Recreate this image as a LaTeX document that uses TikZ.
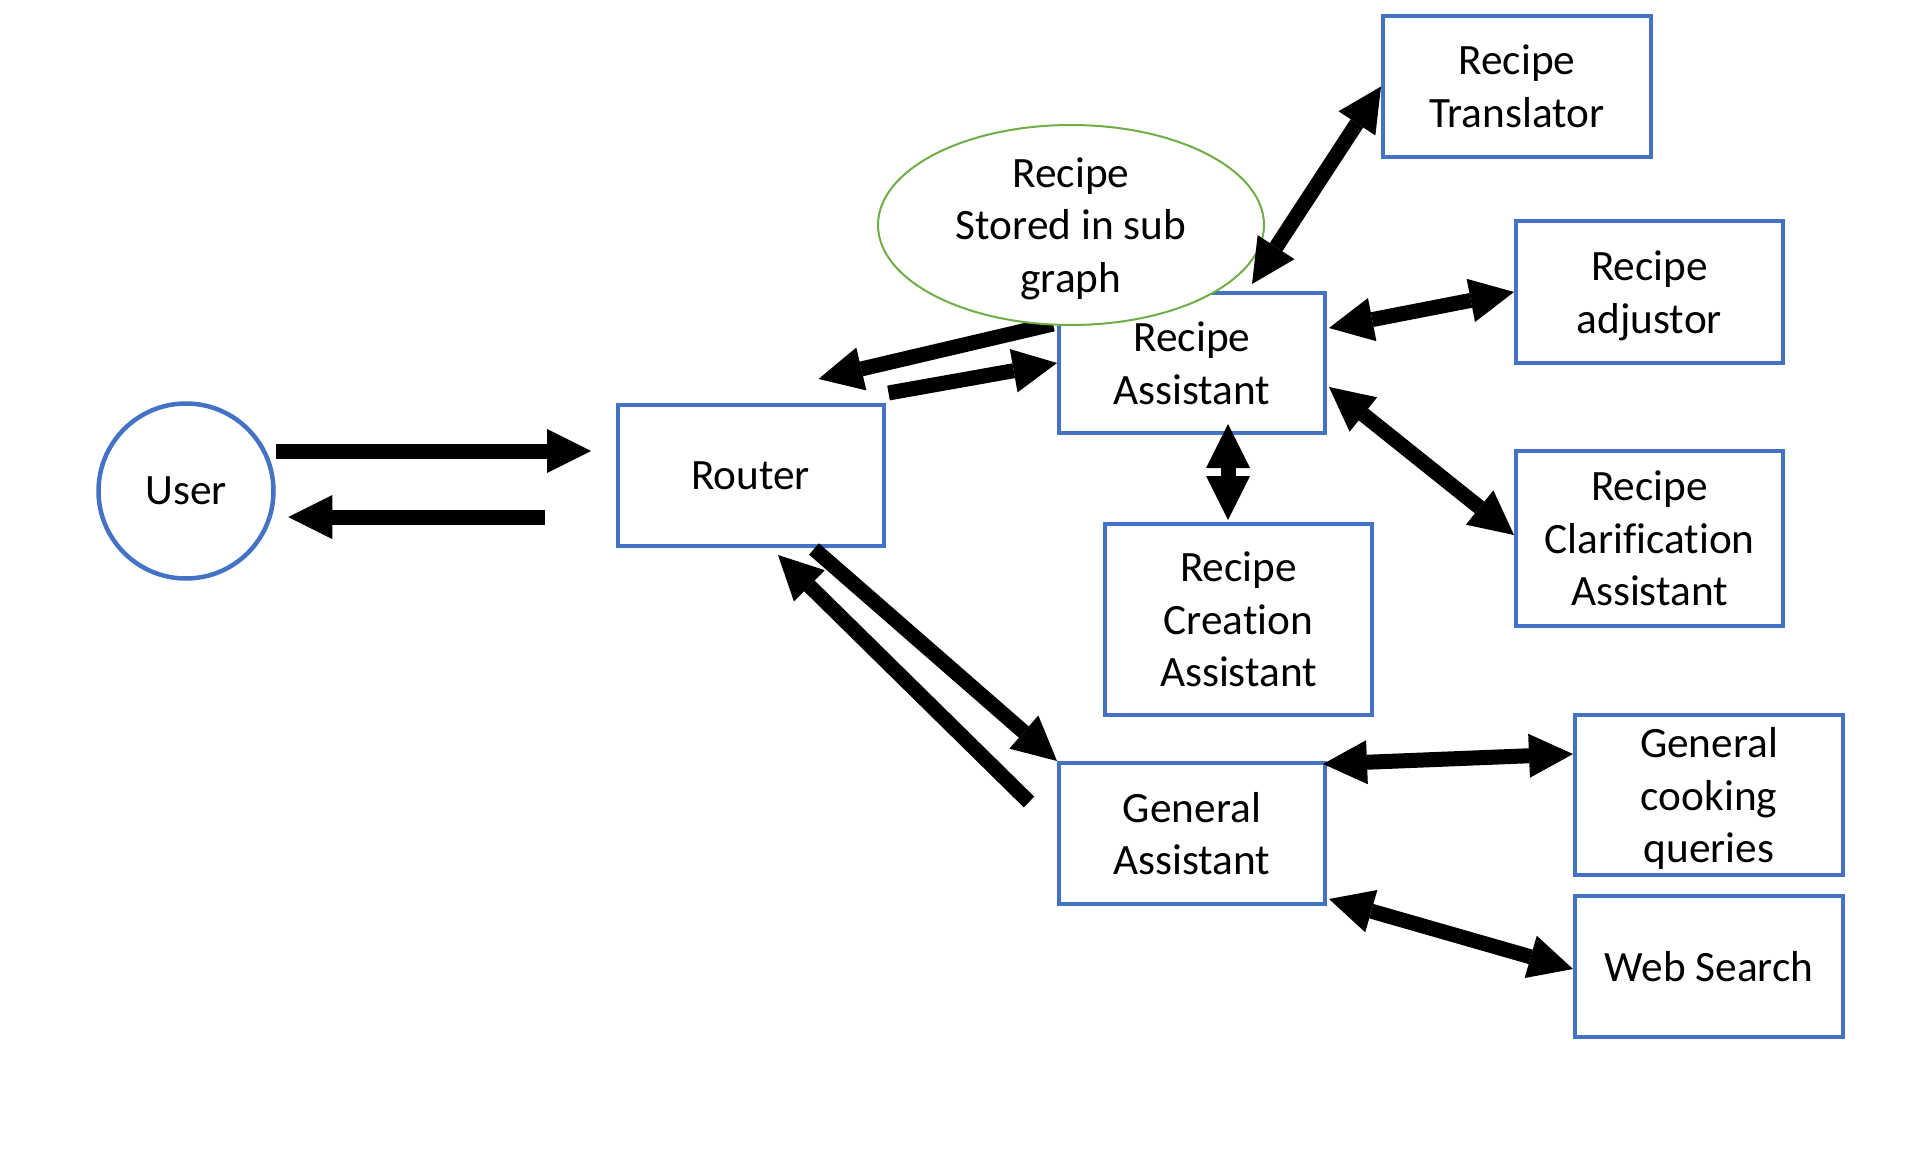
\documentclass[tikz,border=0pt]{standalone}
\usepackage{fontspec}
\setmainfont{Carlito}[Ligatures=NoCommon]
\usetikzlibrary{arrows.meta,shapes.geometric}
\definecolor{boxblue}{HTML}{4472C4}
\definecolor{ellgreen}{HTML}{70AD47}
\begin{document}
\begin{tikzpicture}[x=1pt,y=-1pt,
  txt/.style={font=\fontsize{43.3}{52.6}\selectfont, align=center, inner sep=0pt},
  bx/.style={txt, draw=boxblue, line width=4pt, minimum width=#1},
  bx/.default=266pt,
  arr/.style={line width=15pt, -{Triangle[length=44pt,width=44pt,line width=0pt]}},
  darr/.style={line width=15pt, {Triangle[length=44pt,width=44pt,line width=0pt]}-{Triangle[length=44pt,width=44pt,line width=0pt]}}]
\useasboundingbox[fill=white] (0,0) rectangle (1906,1166);

\node[txt, circle, draw=boxblue, line width=4.5pt, minimum size=175pt] (user) at (186,491) {User};
\node[bx, minimum height=141pt] (router) at (750.5,475.5) {Router};
\node[bx, minimum height=140pt] (ra) at (1192,363) {Recipe\\Assistant};
\node[bx=268pt, minimum height=141pt] (trans) at (1517,86.5) {Recipe\\Translator};
\node[bx=267pt, minimum height=142pt] (adj) at (1649.5,292) {Recipe\\\smash{adjustor}};
\node[bx=267pt, minimum height=175pt] (clar) at (1649.5,538.5) {Recipe\\Clarification\\Assistant};
\node[bx=267pt, minimum height=191pt] (crea) at (1238.5,619.5) {Recipe\\Creation\\Assistant};
\node[bx, minimum height=141pt] (ga) at (1192,833.5) {General\\Assistant};
\node[bx=268pt, minimum height=160pt] (gcq) at (1709,795) {General\\cooking\\\smash{queries}};
\node[bx=268pt, minimum height=141pt] (web) at (1709,966.5) {Web Search};

% connectors
\draw[arr] ([yshift=40pt]user.east) -- ([xshift=-24.5pt,yshift=24.5pt]router.west);
\draw[arr] ([xshift=-70.5pt,yshift=-41.5pt]router.west) -- ([xshift=12.5pt,yshift=-26pt]user.east);
\draw[arr] ([xshift=-4pt,yshift=39pt]ra.west) -- ([xshift=-67pt,yshift=24pt]router.north east);
\draw[arr] ([xshift=3pt,yshift=10pt]router.north east) -- (ra.west);
\draw[arr] ([xshift=63.5pt,yshift=-1pt]router.south) -- (ga.north west);
\draw[arr] ([xshift=-28pt,yshift=31.5pt]ga.west) -- ([xshift=27.5pt,yshift=-7pt]router.south);
\draw[darr] ([xshift=2pt,yshift=35pt]ra.east) -- (adj.west);
\draw[darr] ([xshift=2pt,yshift=-24pt]ra.east) -- ([yshift=3.5pt]clar.west);
\draw[darr] ([xshift=36pt,yshift=11pt]ra.south) -- ([xshift=-10.5pt,yshift=2pt]crea.north);
\draw[darr] ([xshift=-4pt,yshift=-3pt]ga.north east) -- ([yshift=41pt]gcq.west);
\draw[darr] ([xshift=2pt,yshift=7pt]ga.south east) -- ([yshift=-2.5pt]web.west);

% ellipse over the Recipe Assistant box
\node[ellipse, draw=ellgreen, fill=white, line width=2pt, minimum width=386pt, minimum height=200pt, inner sep=0pt] (ellshape) at (1071,225) {};
\node[txt] (ell) at (ellshape.center) {Recipe\\Stored in sub\\\smash{graph}};

\draw[darr] ([xshift=60pt,yshift=7pt]ra.north) -- (trans.west);
\end{tikzpicture}
\end{document}
